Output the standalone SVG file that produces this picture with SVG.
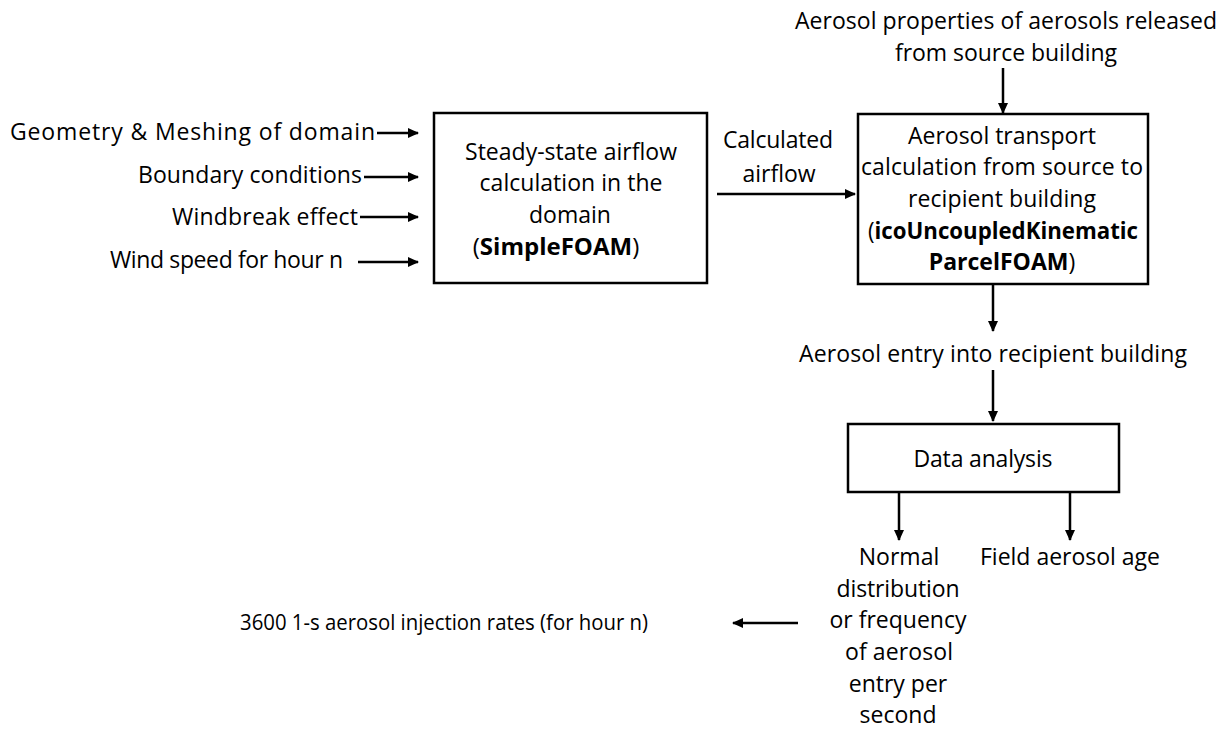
<svg xmlns="http://www.w3.org/2000/svg" width="1231" height="730" viewBox="0 0 1231 730">
<style>
text{font-family:"Open Sans","Noto Sans","Liberation Sans",sans-serif;font-size:23px;fill:#000}
.m{text-anchor:middle}
.e{text-anchor:end}
.b{font-weight:bold}
.box{fill:#fff;stroke:#000;stroke-width:2.5}
.c{stroke:#000;stroke-width:2.5;fill:none;marker-end:url(#ah)}
</style>
<defs>
<marker id="ah" markerUnits="userSpaceOnUse" markerWidth="11" markerHeight="10" refX="10" refY="5" orient="auto">
<path d="M0,0 L11,5 L0,10 z" fill="#000"/>
</marker>
</defs>
<rect width="1231" height="730" fill="#fff"/>
<g id="connectors">
<line class="c" x1="377" y1="133" x2="418" y2="133"/>
<line class="c" x1="364" y1="177" x2="418" y2="177"/>
<line class="c" x1="360" y1="217" x2="418" y2="217"/>
<line class="c" x1="358" y1="262" x2="418" y2="262"/>
<line class="c" x1="717" y1="194" x2="855" y2="194"/>
<line class="c" x1="1003" y1="68" x2="1003" y2="113"/>
<line class="c" x1="993" y1="285" x2="993" y2="331"/>
<line class="c" x1="993" y1="370" x2="993" y2="421"/>
<line class="c" x1="899" y1="493" x2="899" y2="540"/>
<line class="c" x1="1070" y1="493" x2="1070" y2="540"/>
<line class="c" x1="798" y1="623" x2="733" y2="623"/>
</g>
<g id="inputs">
<text class="e" x="375" y="140" textLength="365" lengthAdjust="spacing">Geometry &amp; Meshing of domain</text>
<text class="e" x="362" y="183" textLength="224" lengthAdjust="spacing">Boundary conditions</text>
<text class="e" x="358" y="225" textLength="186" lengthAdjust="spacing">Windbreak effect</text>
<text class="e" x="343" y="268" textLength="233" lengthAdjust="spacing">Wind speed for hour n</text>
</g>
<g id="airflow">
<rect class="box" x="434" y="113" width="273" height="170"/>
<text class="m" x="571" y="160" textLength="212" lengthAdjust="spacing">Steady-state airflow</text>
<text class="m" x="571" y="191" textLength="183" lengthAdjust="spacing">calculation in the</text>
<text class="m" x="570" y="223">domain</text>
<text class="m" x="556" y="255" style="font-size:24px">(<tspan class="b">SimpleFOAM</tspan>)</text>
</g>
<g id="calc-label">
<text class="m" x="778" y="148" textLength="110" lengthAdjust="spacing">Calculated</text>
<text class="m" x="779" y="182">airflow</text>
</g>
<g id="props">
<text class="m" x="1006" y="29" textLength="422" lengthAdjust="spacing">Aerosol properties of aerosols released</text>
<text class="m" x="1006" y="61" textLength="222" lengthAdjust="spacing">from source building</text>
</g>
<g id="transport">
<rect class="box" x="858" y="114" width="290" height="170"/>
<text class="m" x="1002" y="144" textLength="188" lengthAdjust="spacing">Aerosol transport</text>
<text class="m" x="1002" y="175" textLength="282" lengthAdjust="spacing">calculation from source to</text>
<text class="m" x="1002" y="207" textLength="188" lengthAdjust="spacing">recipient building</text>
<text class="m" x="1003" y="239" textLength="270" lengthAdjust="spacingAndGlyphs">(<tspan class="b">icoUncoupledKinematic</tspan></text>
<text class="m" x="1002" y="270"><tspan class="b">ParcelFOAM</tspan>)</text>
</g>
<g id="entry">
<text class="m" x="993" y="362" textLength="388" lengthAdjust="spacing">Aerosol entry into recipient building</text>
</g>
<g id="analysis">
<rect class="box" x="848" y="424" width="271" height="68"/>
<text class="m" x="983" y="467" textLength="139" lengthAdjust="spacing">Data analysis</text>
</g>
<g id="normal">
<text class="m" x="899" y="565">Normal</text>
<text class="m" x="898" y="597" textLength="123" lengthAdjust="spacing">distribution</text>
<text class="m" x="898" y="628" textLength="137" lengthAdjust="spacing">or frequency</text>
<text class="m" x="899" y="660" textLength="108" lengthAdjust="spacing">of aerosol</text>
<text class="m" x="898" y="692">entry per</text>
<text class="m" x="898" y="723">second</text>
</g>
<g id="age">
<text class="m" x="1070" y="565" textLength="180" lengthAdjust="spacing">Field aerosol age</text>
</g>
<g id="injection">
<text class="m" x="444" y="630" style="font-size:22.5px" textLength="408" lengthAdjust="spacingAndGlyphs">3600 1-s aerosol injection rates (for hour n)</text>
</g>
</svg>
